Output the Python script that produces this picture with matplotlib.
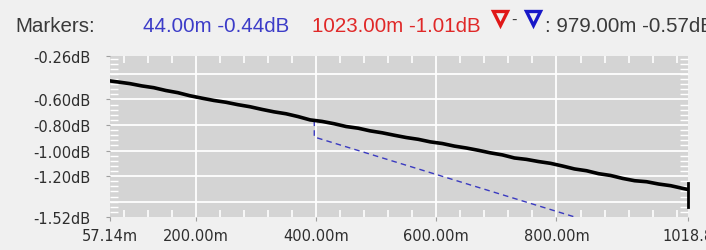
import matplotlib
matplotlib.use("Agg")
import matplotlib.pyplot as plt
from matplotlib.lines import Line2D

# ---- data ----
dist_m = [57.14, 70, 90, 110, 130, 150, 170, 190, 210, 230, 250, 270, 290, 310, 330,
          350, 370, 390, 410, 430, 450, 470, 490, 510, 530, 550, 570, 590, 610, 630,
          650, 670, 690, 710, 730, 750, 770, 790, 810, 830, 850, 870, 890, 910, 930,
          950, 970, 990, 1010, 1018.8]
loss_db = [-0.455, -0.463, -0.476, -0.494, -0.508, -0.530, -0.547, -0.571, -0.590, -0.608,
           -0.622, -0.641, -0.657, -0.678, -0.697, -0.712, -0.734, -0.760, -0.772, -0.790,
           -0.812, -0.825, -0.846, -0.861, -0.880, -0.898, -0.912, -0.932, -0.945, -0.965,
           -0.980, -0.998, -1.018, -1.034, -1.058, -1.069, -1.086, -1.100, -1.121, -1.144,
           -1.158, -1.181, -1.195, -1.218, -1.236, -1.244, -1.262, -1.275, -1.296, -1.305]
end_x = [1018.8, 1018.8]
end_y = [-1.25, -1.44]
marker_line_x = [397, 397, 852]
marker_line_y = [-0.765, -0.894, -1.551]

x_ticks = [57.14, 200, 400, 600, 800, 1018.8]
x_tick_labels = ["57.14m", "200.00m", "400.00m", "600.00m", "800.00m", "1018.8"]
y_ticks = [-0.26, -0.60, -0.80, -1.00, -1.20, -1.52]
y_tick_labels = ["-0.26dB", "-0.60dB", "-0.80dB", "-1.00dB", "-1.20dB", "-1.52dB"]
x_grid = [200, 400, 600, 800]
y_grid = [-0.40, -0.60, -0.80, -1.00, -1.20, -1.40]
x_minor = [80, 120, 160, 240, 280, 320, 360, 440, 480, 520, 560, 640, 680, 720, 760,
           840, 880, 920, 960, 1000]
y_minor = [-0.28 - 0.04 * i for i in range(32)]

header_label = "Markers:"
marker_a = "44.00m -0.44dB"
marker_b = "1023.00m -1.01dB"
marker_delta = ": 979.00m -0.57dB"

W, H = 706, 251
fig = plt.figure(figsize=(W / 100, H / 100), dpi=100)
fig.patch.set_facecolor("#f0f0f0")

ax = fig.add_axes([110 / W, 1 - 218 / H, (688 - 110) / W, (218 - 57) / H])
ax.set_facecolor("#d4d4d4")
ax.set_xlim(57.14, 1018.8)
ax.set_ylim(-1.52, -0.26)
for s in ax.spines.values():
    s.set_visible(False)

for g in x_grid:
    ax.axvline(g, color="white", lw=1.3, zorder=1)
for g in y_grid:
    ax.axhline(g, color="white", lw=1.3, zorder=1)

ax.set_xticks(x_ticks)
ax.set_xticklabels(x_tick_labels)
ax.set_yticks(y_ticks)
ax.set_yticklabels(y_tick_labels)
ax.set_xticks(x_minor, minor=True)
ax.set_yticks(y_minor, minor=True)
ax.tick_params(axis="both", which="major", length=3, color="#a0a0a0",
               labelcolor="#2e2e2e", labelsize=10.5)
ax.tick_params(axis="x", which="major", pad=5)
ax.tick_params(axis="y", which="major", pad=11)
ax.tick_params(axis="x", which="minor", direction="in", length=5, width=1.2,
               color="white", top=True, bottom=True)
ax.tick_params(axis="y", which="minor", direction="in", length=6, width=1.0,
               color="white", left=True, right=True)

ax.plot(marker_line_x, marker_line_y, color="#3a3ac0", lw=1.0,
        dashes=(4, 3), zorder=3)
ax.plot(dist_m, loss_db, color="black", lw=2.6, zorder=4,
        solid_joinstyle="miter")
ax.plot(end_x, end_y, color="black", lw=2.0, zorder=4, clip_on=False)

hfont = dict(family="Liberation Sans", fontsize=14.8, va="baseline")
yb = 1 - 32 / H
fig.text(15 / W, yb, header_label, color="#3a3a3a", **hfont)
fig.text(143 / W, yb, marker_a, color="#3c3cc8", **hfont)
fig.text(312 / W, yb, marker_b, color="#e02828", **hfont)
fig.add_artist(Line2D([500 / W], [1 - 19 / H], transform=fig.transFigure,
                      marker="v", ms=9.5, mfc="none", mec="#e01818", mew=2.4, ls="none"))
fig.text(514 / W, 1 - 20 / H, "-", color="#3a3a3a", ha="center", va="center",
         family="Liberation Sans", fontsize=12)
fig.add_artist(Line2D([533 / W], [1 - 19 / H], transform=fig.transFigure,
                      marker="v", ms=9.5, mfc="none", mec="#1818c8", mew=2.4, ls="none"))
fig.text(545 / W, yb, marker_delta, color="#3a3a3a", **hfont)

fig.savefig("out.png", dpi=100, facecolor=fig.get_facecolor())
